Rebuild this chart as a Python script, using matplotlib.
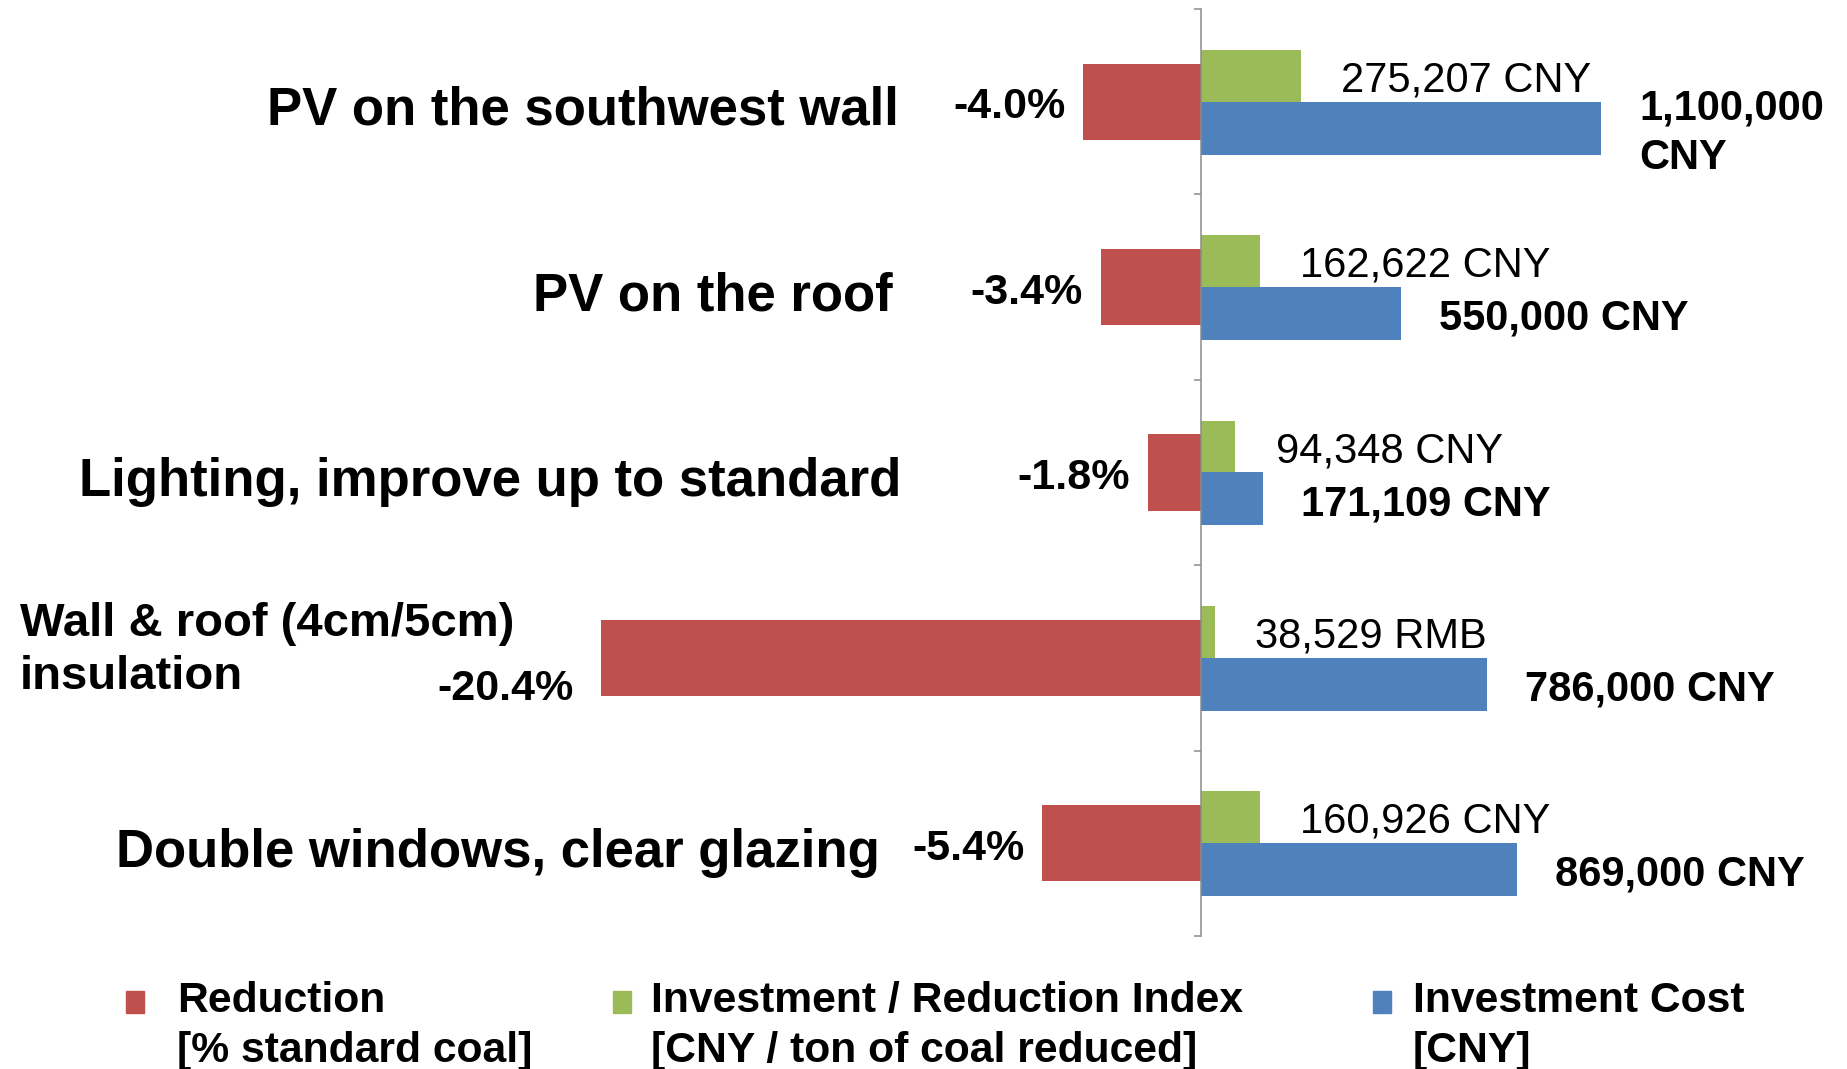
import numpy as np
import matplotlib
matplotlib.use('Agg')
import matplotlib.pyplot as plt
from matplotlib.patches import Rectangle

# [DATA] ======================================================================
categories = ['PV on the southwest wall',
              'PV on the roof',
              'Lighting, improve up to standard',
              'Wall & roof (4cm/5cm)\ninsulation',
              'Double windows, clear glazing']
reduction_pct = [-4.0, -3.4, -1.8, -20.4, -5.4]          # % standard coal
index_cny = [275207, 162622, 94348, 38529, 160926]       # CNY / ton coal reduced
index_unit = ['CNY', 'CNY', 'CNY', 'RMB', 'CNY']
cost_cny = [1100000, 550000, 171109, 786000, 869000]     # CNY
legend_labels = ['Reduction\n[% standard coal]',
                 'Investment / Reduction Index\n[CNY / ton of coal reduced]',
                 'Investment Cost\n[CNY]']
# [END DATA] ==================================================================

# [CONFIG] ====================================================================
W, H, DPI = 1847, 1069, 100
AXIS_X = 1201            # px position of the zero line
PX_PER_MCNY = 364.0      # px per million CNY
PX_PER_PCT = 29.4        # px per % reduction
RED, GREEN, BLUE = '#C0504D', '#9BBB59', '#4F81BD'
# right edge (px) of each category label; None -> left aligned block
label_right_px = [899, 893, 901, None, 880]
legend_marker_px = [135, 622, 1382]
legend_text_px = [177, 651, 1413]
plt.rcParams['font.family'] = ['Liberation Sans', 'DejaVu Sans']
# [END CONFIG] ================================================================

fig = plt.figure(figsize=(W / DPI, H / DPI), dpi=DPI)
ax = fig.add_axes([0, 1 - 936 / H, 1, (936 - 9) / H])
ax_red = ax.twiny()
ax.set_zorder(2)
ax.patch.set_visible(False)

y = np.arange(len(categories))
ax.set_ylim(len(categories) - 0.5, -0.5)
ax.set_xlim(-AXIS_X / PX_PER_MCNY * 1e6, (W - AXIS_X) / PX_PER_MCNY * 1e6)
ax_red.set_xlim(-AXIS_X / PX_PER_PCT, (W - AXIS_X) / PX_PER_PCT)

# bars
ax_red.barh(y, reduction_pct, height=0.41, color=RED)
ax.barh(y - 0.28, index_cny, height=0.28, align='edge', color=GREEN)
ax.barh(y, cost_cny, height=0.285, align='edge', color=BLUE)

# axis styling: only the zero line with ticks between categories
for side in ['top', 'right', 'bottom']:
    ax.spines[side].set_visible(False)
ax.spines['left'].set_position(('data', 0))
ax.spines['left'].set_color('#8c8c8c')
ax.spines['left'].set_linewidth(1.1)
ax.set_yticks(np.arange(len(categories) + 1) - 0.5)
ax.set_yticklabels([])
ax.tick_params(axis='y', direction='out', length=5, width=1.1, color='#8c8c8c')
ax.set_xticks([])
ax_red.axis('off')

# value labels
for i in range(len(categories)):
    two_line = '\n' in categories[i]
    # reduction
    dy = 0.17 if two_line else 0.03
    dx = -20 if two_line else -13
    ax_red.annotate(f'{reduction_pct[i]:.1f}%', xy=(reduction_pct[i], y[i] + dy),
                    xytext=(dx, 0), textcoords='offset points',
                    ha='right', va='center', fontsize=31, fontweight='bold')
    # index
    ax.annotate(f'{index_cny[i]:,} {index_unit[i]}', xy=(index_cny[i], y[i] - 0.115),
                xytext=(29, 0), textcoords='offset points',
                ha='left', va='center', fontsize=30)
    # cost
    sep = '\n' if cost_cny[i] >= 1e6 else ' '
    ax.annotate(f'{cost_cny[i]:,}{sep}CNY', xy=(cost_cny[i], y[i] + 0.17),
                xytext=(27, 0), textcoords='offset points',
                ha='left', va='center', fontsize=30, fontweight='bold',
                linespacing=1.3)

# category labels
for i, cat in enumerate(categories):
    if label_right_px[i] is None:
        # wrapped label, one text per line so the block hugs the left edge
        lines = cat.split('\n')
        for k, line in enumerate(lines):
            ax.text(20 / W, y[i] - 0.04 + (k - (len(lines) - 1) / 2) * 0.29, line,
                    transform=ax.get_yaxis_transform(),
                    ha='left', va='center', fontsize=34, fontweight='bold')
    else:
        ax.text(label_right_px[i] / W, y[i] + 0.05, cat,
                transform=ax.get_yaxis_transform(),
                ha='right', va='center', fontsize=38, fontweight='bold')

# legend, drawn by hand so markers sit on the first line
for mx, tx, col, lab in zip(legend_marker_px, legend_text_px,
                            [RED, GREEN, BLUE], legend_labels):
    fig.add_artist(Rectangle(((mx - 9) / W, 1 - 1013 / H), 18 / W, 22 / H,
                             transform=fig.transFigure, color=col))
    fig.text(tx / W, 1 - 981 / H, lab, ha='left', va='top',
             fontsize=30.7, fontweight='bold', linespacing=1.32)

fig.savefig('out.png', dpi=DPI)
